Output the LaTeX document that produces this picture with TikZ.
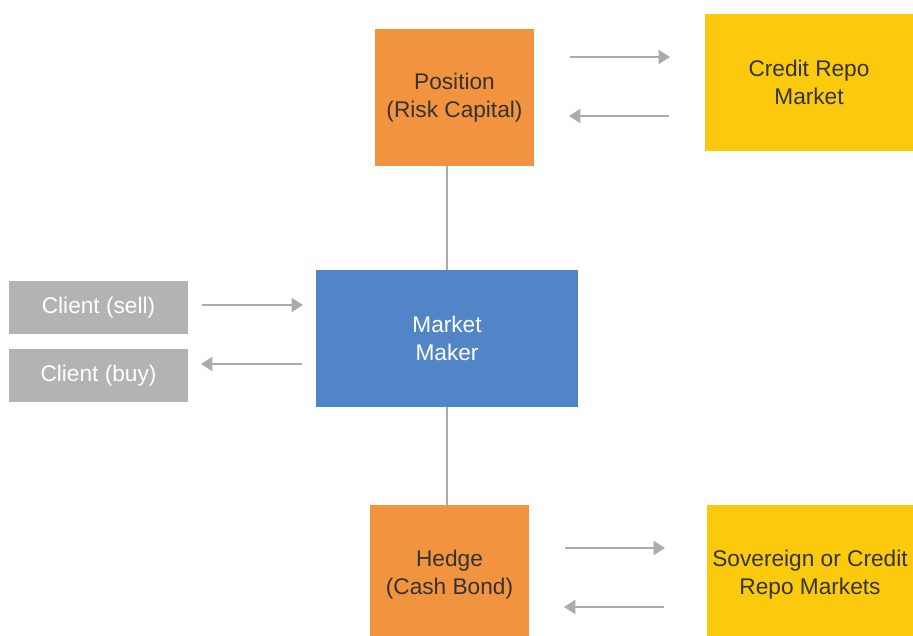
\documentclass[tikz,border=0pt]{standalone}
\usepackage{fontspec}
\setmainfont{Liberation Sans}
\usetikzlibrary{arrows.meta}

\definecolor{riskorange}{HTML}{F29340}
\definecolor{repoyellow}{HTML}{FBCA0D}
\definecolor{makerblue}{HTML}{5185C7}
\definecolor{clientgray}{HTML}{B3B3B3}
\definecolor{flowgray}{HTML}{ABABAB}
\definecolor{labelgray}{HTML}{333333}

\begin{document}
\begin{tikzpicture}[x=0.75pt,y=0.75pt,yscale=-1,xscale=1,
  box/.style={inner sep=0pt, align=center, font=\fontsize{17}{21}\selectfont, text=labelgray},
  flow/.style={draw=flowgray, line width=1.2pt, -{Triangle[length=8.5pt,width=10.5pt]}, fill=flowgray},
  link/.style={draw=flowgray, line width=0.9pt}]
\useasboundingbox (0,0) rectangle (913,635);

%Shape: Rectangle [id:position]
\node (pos) [box, fill=riskorange, minimum width=119.25pt, minimum height=102.75pt] at (454.5,97.5) {Position\\(Risk Capital)};
%Shape: Rectangle [id:creditrepo]
\node (crm) [box, fill=repoyellow, minimum width=156pt, minimum height=102.75pt] at (809,82.5) {Credit Repo\\Market};
%Shape: Rectangle [id:marketmaker]
\node (mm) [box, fill=makerblue, text=white, minimum width=196.5pt, minimum height=102.75pt] at (447,338.5) {Market\\Maker};
%Shape: Rectangle [id:clientsell]
\node (sell) [box, fill=clientgray, text=white, minimum width=134.25pt, minimum height=39.75pt] at (98.5,307.5) {Client (sell)};
%Shape: Rectangle [id:clientbuy]
\node (buy) [box, fill=clientgray, text=white, minimum width=134.25pt, minimum height=39.75pt] at (98.5,375.5) {Client (buy)};
%Shape: Rectangle [id:hedge]
\node (hedge) [box, fill=riskorange, minimum width=119.25pt, minimum height=105pt] at (449.5,575) {Hedge\\(Cash Bond)};
%Shape: Rectangle [id:sovrepo]
\node (srm) [box, fill=repoyellow, minimum width=154.5pt, minimum height=105pt] at (810,575) {Sovereign or Credit\\Repo Markets};

%Straight Lines [id:links]
\draw [link] (mm.north) -- (mm.north |- pos.south) ;
\draw [link] (mm.south) -- (mm.south |- hedge.north) ;

% arrow ends
\coordinate (t1) at (570,57) ;  \coordinate (t2) at (670,57) ;
\coordinate (t3) at (669,116) ; \coordinate (t4) at (569,116) ;
\coordinate (c1) at (202,305) ; \coordinate (c2) at (303,305) ;
\coordinate (c3) at (302,364) ; \coordinate (c4) at (201,364) ;
\coordinate (b1) at (565,548) ; \coordinate (b2) at (665,548) ;
\coordinate (b3) at (664,607) ; \coordinate (b4) at (564,607) ;

%Straight Lines [id:flows]
\draw [flow] (t1) -- (t2) ;
\draw [flow] (t3) -- (t4) ;
\draw [flow] (c1) -- (c2) ;
\draw [flow] (c3) -- (c4) ;
\draw [flow] (b1) -- (b2) ;
\draw [flow] (b3) -- (b4) ;
\end{tikzpicture}
\end{document}
